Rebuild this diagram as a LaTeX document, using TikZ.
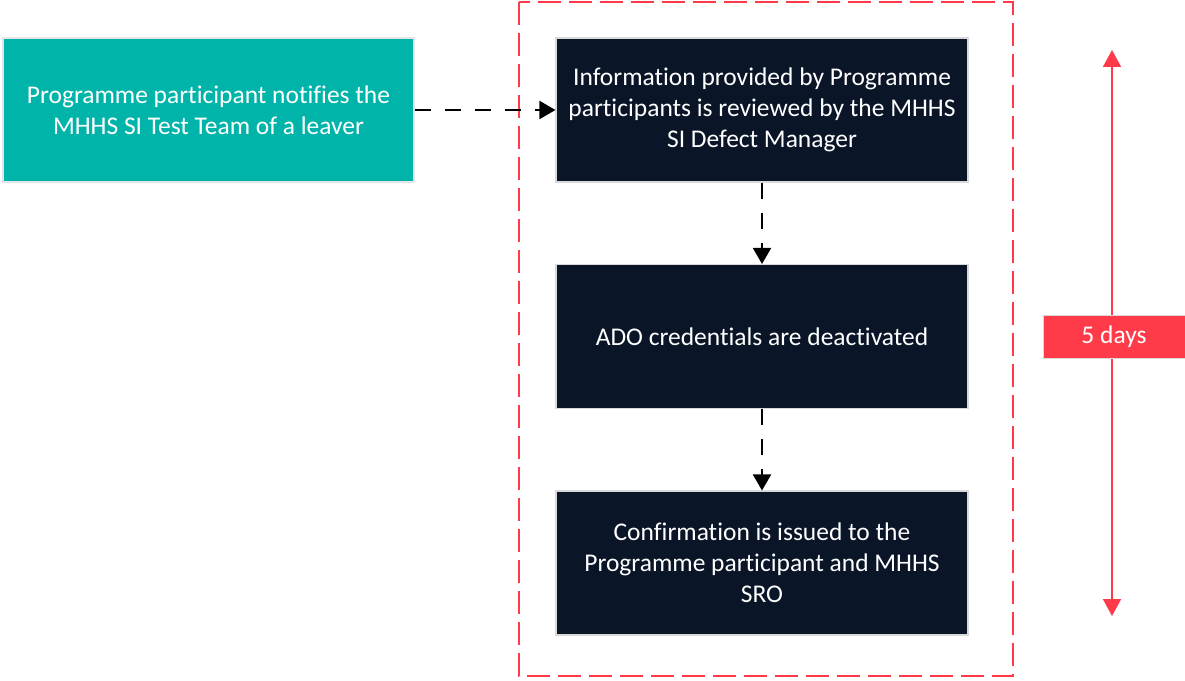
\documentclass[tikz,border=0pt]{standalone}
\usepackage{fontspec}
\setmainfont{Carlito}[Ligatures=NoCommon]
\usepackage{tikz}
\usetikzlibrary{arrows.meta}

\definecolor{sitteal}{RGB}{0,180,170}
\definecolor{sinavy}{RGB}{10,22,40}
\definecolor{sired}{RGB}{255,59,74}

\begin{document}
\begin{tikzpicture}[x=0.2mm, y=-0.2mm,
		stepbox/.style={draw=black!15, line width=0.6pt, fill=sinavy, text=white, minimum width=82.4mm, minimum height=28.8mm, align=center, font=\fontsize{14.5}{17.6}\selectfont},
		flow/.style={line width=1.1pt, dash pattern=on 3.2mm off 2.8mm, -{Triangle[length=3.2mm, width=3.6mm]}},
		span/.style={sired, line width=1.1pt, {Triangle[length=3.4mm, width=3.6mm]}-{Triangle[length=3.4mm, width=3.6mm]}}]
		\useasboundingbox (0,0) rectangle (1185,681);

		% draw time frame
		\draw[sired, line width=1.1pt, dash pattern=on 4.6mm off 1.6mm] (519,2) rectangle (1013,676);

		% draw boxes
		\node[stepbox, fill=sitteal, draw=black!10, minimum width=82.2mm] (notify) at (208.5,110) {Programme participant notifies the\\MHHS SI Test Team of a leaver};
		\node[stepbox] (review) at (762,110) {Information provided by Programme\\participants is reviewed by the MHHS\\SI Defect Manager};
		\node[stepbox] (deact) at (762,336.5) {ADO credentials are deactivated};
		\node[stepbox] (confirm) at (762,563) {Confirmation is issued to the\\Programme participant and MHHS\\SRO};

		% draw arrows
		\draw[flow] (notify) -- (review);
		\draw[flow] (review) -- (deact);
		\draw[flow] (deact) -- (confirm);

		% draw duration
		\coordinate (top) at (1112,50);
		\coordinate (bottom) at (1112,616);
		\draw[span] (top) -- (bottom);
		\node[fill=sired, draw=black!15, line width=0.4pt, text=white, minimum width=28.4mm, minimum height=8.6mm, font=\fontsize{14.5}{17.6}\selectfont] (days) at (1114,336.5) {5 days};
	\end{tikzpicture}
\end{document}
